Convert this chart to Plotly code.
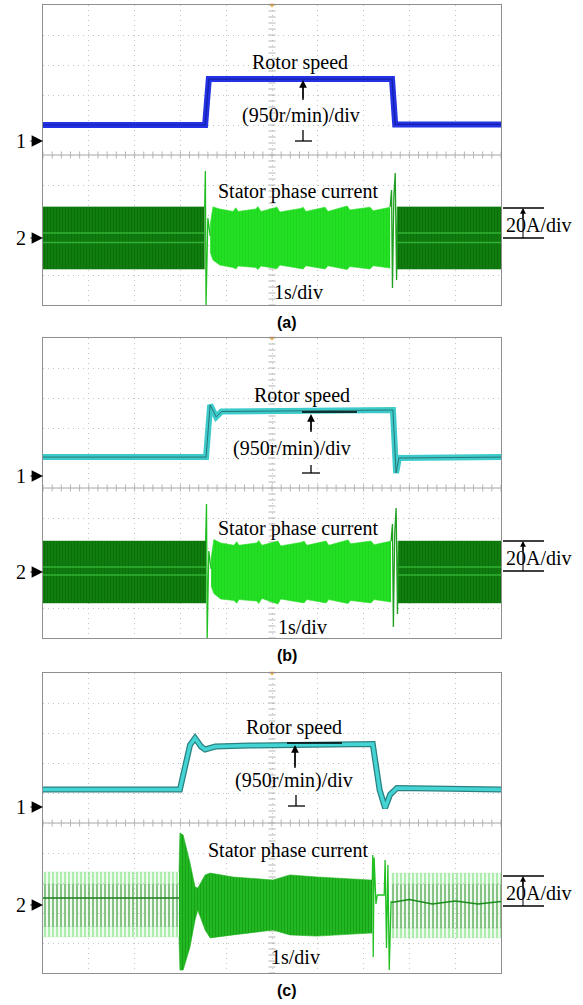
import plotly.graph_objects as go

# ---------------- data (time in s = divisions, amplitude in screen divisions, 0 = bottom) ----------
# panel (a) rotor speed
a_speed_t = [0.0, 3.54, 3.62, 7.62, 7.69, 10.0]
a_speed_v = [6.00, 6.00, 7.53, 7.53, 6.02, 6.02]
# panel (b) rotor speed
b_speed_t = [0.0, 3.56, 3.65, 3.78, 3.90, 7.64, 7.71, 7.77, 10.0]
b_speed_v = [6.03, 6.03, 7.77, 7.37, 7.55, 7.60, 5.50, 6.00, 6.03]
# panel (c) rotor speed
c_speed_t = [0.0, 2.99, 3.21, 3.32, 3.45, 3.54, 3.76, 4.50, 7.20, 7.35, 7.47, 7.58, 7.73, 10.0]
c_speed_v = [6.12, 6.12, 7.60, 7.83, 7.55, 7.45, 7.55, 7.58, 7.63, 6.10, 5.50, 5.95, 6.17, 6.12]

# panel (a) stator current envelopes
a_dark1_t = [0.0, 3.53]
a_dark1_hi = [3.27, 3.27]
a_dark1_lo = [1.20, 1.20]
a_spike1_t = [3.53, 3.545, 3.56, 3.60, 3.65]
a_spike1_v = [3.27, 4.47, 0.00, 2.90, 2.30]
a_bright_t = [3.65, 3.71, 3.86, 4.15, 4.21, 4.26, 4.65, 4.69, 4.76, 5.11, 5.17, 5.63, 5.68, 5.74,
              6.16, 6.22, 6.64, 6.70, 7.14, 7.21, 7.58]
a_bright_hi = [2.67, 3.27, 3.20, 3.12, 3.24, 3.12, 3.20, 3.28, 3.12, 3.26, 3.10, 3.22, 3.26, 3.12,
               3.26, 3.12, 3.30, 3.17, 3.26, 3.14, 3.26]
a_bright_lo = [1.77, 1.50, 1.33, 1.25, 1.20, 1.30, 1.25, 1.18, 1.30, 1.21, 1.33, 1.23, 1.20, 1.31,
               1.20, 1.31, 1.18, 1.28, 1.20, 1.31, 1.23]
a_spike2_t = [7.58, 7.61, 7.63, 7.66, 7.69, 7.72, 7.74]
a_spike2_v = [3.27, 3.83, 0.57, 3.60, 4.40, 0.83, 3.27]
a_dark2_t = [7.73, 10.0]
a_dark2_hi = [3.27, 3.27]
a_dark2_lo = [1.20, 1.20]
a_stripes = [2.40, 2.08]

# panel (b) stator current envelopes
b_dark1_t = [0.0, 3.56]
b_dark1_hi = [3.23, 3.23]
b_dark1_lo = [1.17, 1.17]
b_spike1_t = [3.55, 3.57, 3.585, 3.62, 3.67]
b_spike1_v = [3.23, 4.47, 0.00, 2.90, 2.30]
b_bright_t = [3.67, 3.73, 3.88, 4.17, 4.23, 4.28, 4.67, 4.71, 4.78, 5.13, 5.19, 5.65, 5.70, 5.76,
              6.18, 6.24, 6.66, 6.72, 7.16, 7.23, 7.60]
b_bright_hi = [2.64, 3.28, 3.17, 3.09, 3.21, 3.09, 3.17, 3.25, 3.09, 3.23, 3.07, 3.19, 3.23, 3.09,
               3.23, 3.09, 3.27, 3.14, 3.23, 3.11, 3.23]
b_bright_lo = [1.74, 1.48, 1.30, 1.25, 1.16, 1.28, 1.23, 1.15, 1.32, 1.13, 1.30, 1.20, 1.17, 1.28,
               1.17, 1.28, 1.15, 1.25, 1.17, 1.28, 1.20]
b_spike2_t = [7.60, 7.63, 7.65, 7.68, 7.71, 7.74, 7.76]
b_spike2_v = [3.23, 3.80, 0.37, 3.50, 4.33, 0.80, 3.23]
b_dark2_t = [7.75, 10.0]
b_dark2_hi = [3.23, 3.23]
b_dark2_lo = [1.17, 1.17]
b_stripes = [2.37, 2.10]

# panel (c) stator current envelopes
c_side1_t = [0.0, 2.97]
c_side1_hi = [3.37, 3.37]
c_side1_lo = [1.20, 1.20]
c_side1_mid = [2.50, 2.50]
c_mid_t = [2.97, 2.99, 3.06, 3.21, 3.32, 3.38, 3.54, 3.65, 4.15, 5.02, 5.39, 5.98, 7.14, 7.19]
c_mid_hi = [3.37, 4.67, 4.60, 3.67, 2.87, 2.83, 3.27, 3.33, 3.20, 3.10, 3.27, 3.20, 3.10, 3.10]
c_mid_lo = [1.20, 0.10, 0.10, 0.87, 1.77, 2.10, 1.43, 1.17, 1.27, 1.43, 1.27, 1.23, 1.33, 1.33]
c_spike2_t = [7.19, 7.20, 7.21, 7.23, 7.27, 7.30, 7.45, 7.47, 7.50, 7.53, 7.56, 7.60]
c_spike2_v = [3.10, 3.93, 0.53, 3.85, 2.30, 2.60, 2.60, 3.77, 0.83, 3.60, 0.10, 2.40]
c_side2_t = [7.60, 10.0]
c_side2_hi = [3.33, 3.33]
c_side2_lo = [1.17, 1.17]
c_side2_mid_t = [7.60, 8.0, 8.5, 9.0, 9.5, 10.0]
c_side2_mid_v = [2.35, 2.45, 2.30, 2.40, 2.30, 2.38]

# ---------------- figure ----------------
W, H = 583, 1005
XL, XR = 43, 501
PAN = {"": (5, 305), "2": (338, 638), "3": (673, 973)}

SERIF = "Liberation Serif, Times New Roman, serif"
GRID = "#b4b4b4"
fig = go.Figure()


def px(x):
    return x / W


def py(y):
    return 1 - y / H


def tr(sfx, **kw):
    kw.setdefault("showlegend", False)
    kw.setdefault("hoverinfo", "skip")
    fig.add_trace(go.Scatter(xaxis="x" + sfx, yaxis="y" + sfx, **kw))


def band(sfx, t, hi, lo, color, pattern=None):
    tr(sfx, x=t, y=lo, mode="lines", line=dict(width=0.6, color=color))
    tr(sfx, x=t, y=hi, mode="lines", line=dict(width=0.6, color=color),
       fill="tonexty", fillcolor=color, fillpattern=pattern)


DARK = "#0f7e0f"
dark_pat = dict(shape="|", fgcolor="#0a600a", bgcolor=DARK, size=3, solidity=0.35)
BRIGHT = "#24e024"
bright_pat = dict(shape="|", fgcolor="#1bc81b", bgcolor=BRIGHT, size=3, solidity=0.3)

# grid decorations (center ticks, trigger marker)
for sfx in PAN:
    tr(sfx, x=[i * 0.2 for i in range(51)], y=[5] * 51, mode="markers",
       marker=dict(symbol="line-ns-open", size=5, color=GRID, line=dict(width=1, color=GRID)),
       cliponaxis=False)
    tr(sfx, x=[5] * 51, y=[i * 0.2 for i in range(51)], mode="markers",
       marker=dict(symbol="line-ew-open", size=5, color=GRID, line=dict(width=1, color=GRID)),
       cliponaxis=False)
    tr(sfx, x=[5], y=[10], mode="markers", cliponaxis=False,
       marker=dict(symbol="triangle-down", size=5, color="#f0a030"))

# ---- panel (a) ----
band("", a_dark1_t, a_dark1_hi, a_dark1_lo, DARK, dark_pat)
band("", a_dark2_t, a_dark2_hi, a_dark2_lo, DARK, dark_pat)
for lv in a_stripes:
    tr("", x=a_dark1_t, y=[lv, lv], mode="lines", line=dict(width=1.5, color="#33b033"))
    tr("", x=a_dark2_t, y=[lv, lv], mode="lines", line=dict(width=1.5, color="#33b033"))
band("", a_bright_t, a_bright_hi, a_bright_lo, BRIGHT, bright_pat)
tr("", x=a_spike1_t, y=a_spike1_v, mode="lines", line=dict(width=1.3, color="#1fbf1f"))
tr("", x=a_spike2_t, y=a_spike2_v, mode="lines", line=dict(width=1.3, color="#1f9f1f"))
tr("", x=a_speed_t, y=a_speed_v, mode="lines", line=dict(width=6, color="#2232e4"))
tr("", x=a_speed_t, y=a_speed_v, mode="lines", line=dict(width=1.2, color="#1420a8"))

# ---- panel (b) ----
band("2", b_dark1_t, b_dark1_hi, b_dark1_lo, DARK, dark_pat)
band("2", b_dark2_t, b_dark2_hi, b_dark2_lo, DARK, dark_pat)
for lv in b_stripes:
    tr("2", x=b_dark1_t, y=[lv, lv], mode="lines", line=dict(width=1.5, color="#33b033"))
    tr("2", x=b_dark2_t, y=[lv, lv], mode="lines", line=dict(width=1.5, color="#33b033"))
band("2", b_bright_t, b_bright_hi, b_bright_lo, BRIGHT, bright_pat)
tr("2", x=b_spike1_t, y=b_spike1_v, mode="lines", line=dict(width=1.3, color="#1fbf1f"))
tr("2", x=b_spike2_t, y=b_spike2_v, mode="lines", line=dict(width=1.3, color="#1f9f1f"))
tr("2", x=b_speed_t, y=b_speed_v, mode="lines", line=dict(width=6, color="#3ccaca"))
tr("2", x=b_speed_t, y=b_speed_v, mode="lines", line=dict(width=1.0, color="#2b7676"))

# ---- panel (c) ----
side_pat = dict(shape="|", fgcolor="#5cdc5c", bgcolor="rgba(255,255,255,0)", size=4, solidity=0.6)
inner_pat = dict(shape="|", fgcolor="#2c5e2c", bgcolor="rgba(255,255,255,0)", size=4, solidity=0.3)
band("3", c_side1_t, c_side1_hi, c_side1_lo, "rgba(140,235,140,0.35)", side_pat)
band("3", c_side2_t, c_side2_hi, c_side2_lo, "rgba(140,235,140,0.35)", side_pat)
band("3", c_side1_t, [2.95, 2.95], [1.55, 1.55], "rgba(60,140,60,0.25)", inner_pat)
band("3", c_side2_t, [2.95, 2.95], [1.50, 1.50], "rgba(60,140,60,0.25)", inner_pat)
tr("3", x=c_side1_t, y=c_side1_mid, mode="lines", line=dict(width=1.5, color="#1c7a1c"))
tr("3", x=c_side2_mid_t, y=c_side2_mid_v, mode="lines", line=dict(width=1.5, color="#1c8a1c"))
band("3", c_mid_t, c_mid_hi, c_mid_lo, "#1db01d",
     dict(shape="|", fgcolor="#0e8a0e", bgcolor="#22b822", size=3, solidity=0.35))
tr("3", x=c_spike2_t, y=c_spike2_v, mode="lines", line=dict(width=1.3, color="#22c022"))
tr("3", x=c_speed_t, y=c_speed_v, mode="lines", line=dict(width=6, color="#2a8080"))
tr("3", x=c_speed_t, y=c_speed_v, mode="lines", line=dict(width=3.5, color="#44d4d4"))

# ---------------- axes ----------------
layout = dict(width=W, height=H, margin=dict(l=0, r=0, t=0, b=0),
              paper_bgcolor="white", plot_bgcolor="white", showlegend=False)
axc = dict(range=[0, 10], dtick=1, tick0=0, showgrid=True, gridcolor="#c4c4c4", griddash="1px,4px",
           gridwidth=1, zeroline=False, showline=True, linecolor="#8f8f8f", linewidth=1, mirror=True,
           ticks="", showticklabels=False, fixedrange=True)
for sfx, (top, bot) in PAN.items():
    layout["xaxis" + sfx] = dict(axc, domain=[px(XL), px(XR)], anchor="y" + sfx)
    layout["yaxis" + sfx] = dict(axc, domain=[py(bot), py(top)], anchor="x" + sfx)
fig.update_layout(**layout)

# ---------------- annotations & shapes (pixel positions) ----------------
ann = []
shp = []


def text(x, y, s, size=20, fam=SERIF, xanchor="center"):
    ann.append(dict(x=px(x), y=py(y), xref="paper", yref="paper", text=s, showarrow=False,
                    xanchor=xanchor, yanchor="middle", font=dict(family=fam, size=size, color="black")))


def arrow(xh, yh, dx, dy, size=1.0, w=1.3):
    ann.append(dict(x=px(xh), y=py(yh), xref="paper", yref="paper", text="", showarrow=True,
                    ax=dx, ay=dy, arrowhead=2, arrowsize=size, arrowwidth=w, arrowcolor="black",
                    standoff=0, startstandoff=0))


def line(x0, y0, x1, y1, color="black", w=1.3):
    shp.append(dict(type="line", xref="paper", yref="paper", x0=px(x0), y0=py(y0), x1=px(x1), y1=py(y1),
                    line=dict(color=color, width=w)))


spec = [
    dict(top=5, rs=(300, 62), bar=None, ar=(303, 80, 100), sp=(301, 115), perp=(295, 312, 141, 130, 303),
         st=(298, 192), s1=(299, 292), ch1=141, ch2=238, cap=(287, 322, "(a)")),
    dict(top=338, rs=(302, 395), bar=(302, 357, 412), ar=(311, 414, 432), sp=(292, 448),
         perp=(302, 320, 473, 465, 311), st=(298, 528), s1=(302, 627), ch1=476, ch2=572, cap=(287, 655, "(b)")),
    dict(top=673, rs=(294, 727), bar=(287, 342, 743), ar=(295, 745, 768), sp=(294, 780),
         perp=(288, 305, 806, 795, 296), st=(288, 850), s1=(295, 957), ch1=807, ch2=905, cap=(287, 990, "(c)")),
]
for s in spec:
    off = s["top"] - 5
    text(*s["rs"], "Rotor speed")
    if s["bar"]:
        line(s["bar"][0], s["bar"][2], s["bar"][1], s["bar"][2])
    x, yh, yt = s["ar"]
    line(x, yh + 6, x, yt)
    arrow(x, yh, 0, yt - yh, size=1.2)
    text(*s["sp"], "(950r/min)/div")
    x0, x1, yb, ys, xs = s["perp"]
    line(x0, yb, x1, yb)
    line(xs, ys, xs, yb)
    text(*s["st"], "Stator phase current")
    text(*s["s1"], "1s/div")
    # 20A/div scale
    line(503, 208 + off, 544, 208 + off)
    line(503, 238 + off, 544, 238 + off)
    line(523, 214 + off, 523, 238 + off, w=1)
    arrow(523, 208 + off, 0, 12, size=0.9)
    text(504, 228 + off - 3, "20A/div", xanchor="left")
    # channel markers
    text(21, s["ch1"], "1")
    arrow(43, s["ch1"], -14, 0, size=1.9, w=1.2)
    text(21, s["ch2"], "2")
    arrow(43, s["ch2"], -14, 0, size=1.9, w=1.2)
    cx, cy, ct = s["cap"]
    text(cx, cy, "<b>" + ct + "</b>", size=16, fam="Liberation Sans, Arial, sans-serif")

# horizontal center line of each screen
for sfx, (top, bot) in PAN.items():
    shp.append(dict(type="line", xref="x" + sfx, yref="y" + sfx, x0=0, x1=10, y0=5, y1=5,
                    line=dict(color="#a8a8a8", width=1), layer="below"))

fig.update_layout(annotations=ann, shapes=shp)
fig.write_html("out.html")
